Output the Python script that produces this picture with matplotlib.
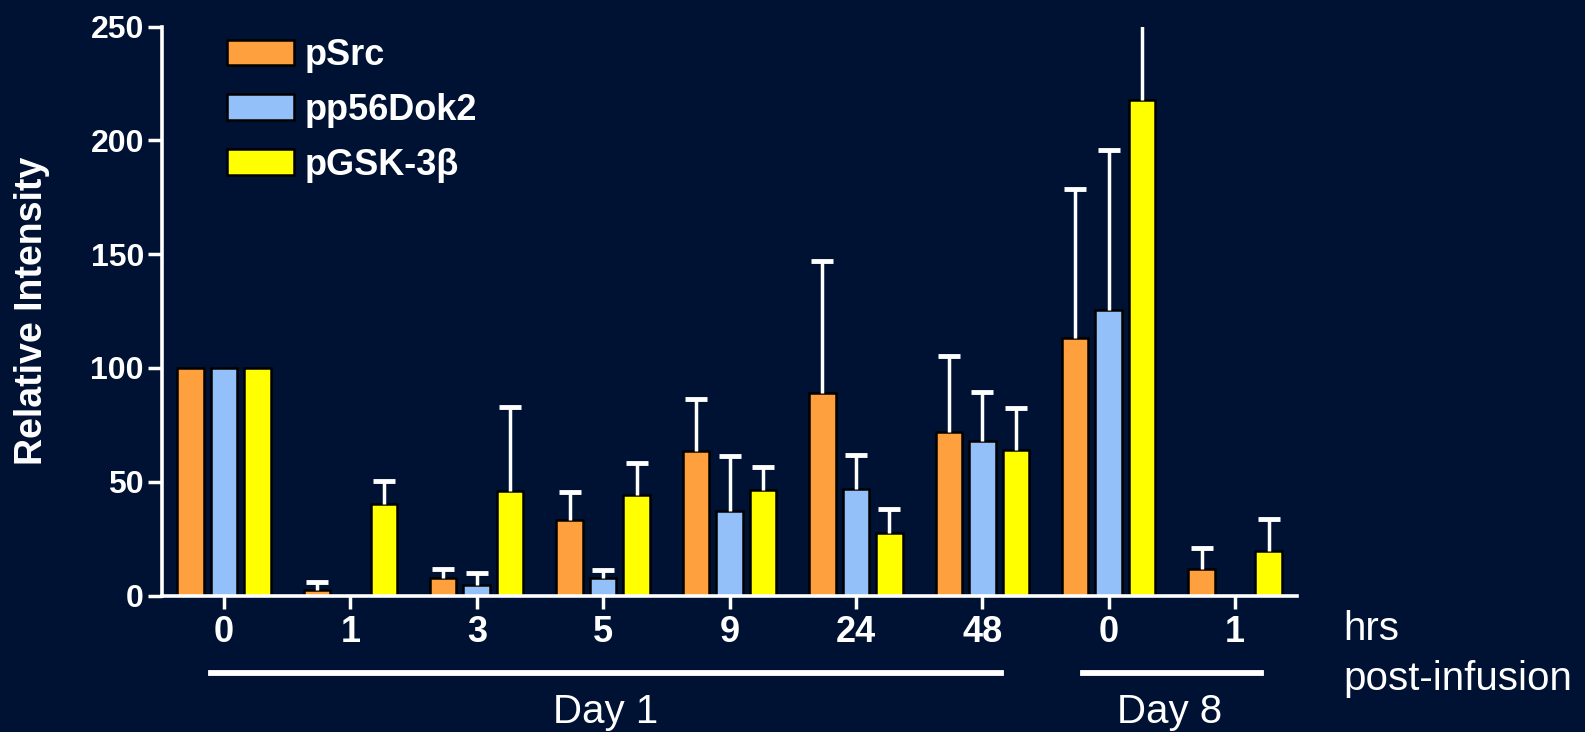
import matplotlib
matplotlib.use("Agg")
import matplotlib.pyplot as plt
from matplotlib.lines import Line2D
import numpy as np

# data
hours = ["0", "1", "3", "5", "9", "24", "48", "0", "1"]
series = ["pSrc", "pp56Dok2", "pGSK-3β"]
psrc = [100, 2.4, 7.8, 33, 63.5, 89, 72, 113, 11.6]
psrc_err = [0, 3.6, 4.0, 12.4, 22.7, 58, 33.3, 65.8, 9.4]
pdok = [100, 0, 4.6, 7.5, 37.1, 47, 67.8, 125.4, 0]
pdok_err = [0, 0, 5.3, 3.7, 24.1, 14.9, 21.5, 70.2, 0]
pgsk = [100, 40.3, 45.9, 44.2, 46.5, 27.5, 63.8, 218, 19.5]
pgsk_err = [0, 10, 36.8, 13.9, 9.9, 10.4, 18.6, 45, 14.3]

bg = "#001233"
colors = ["#FFA03F", "#93C0F8", "#FFFF00"]

plt.rcParams["font.family"] = ["Liberation Sans", "DejaVu Sans"]

fig = plt.figure(figsize=(15.85, 7.32), dpi=100, facecolor=bg)
ax = fig.add_axes([162 / 1585, 1 - 595.5 / 732, (1297 - 162) / 1585, (595.5 - 26.7) / 732])
ax.set_facecolor(bg)

x = np.arange(len(hours))
offs = [-0.265, 0.0, 0.265]
w = 0.21
for vals, errs, col, off, name in zip([psrc, pdok, pgsk], [psrc_err, pdok_err, pgsk_err],
                                      colors, offs, series):
    vals = np.array(vals, dtype=float)
    errs = np.array(errs, dtype=float)
    ax.bar(x + off, vals, w, color=col, edgecolor="black", linewidth=1.8, label=name, zorder=2)
    m = errs > 0
    # upper error bars only
    eb = ax.errorbar(x[m] + off, vals[m], yerr=[np.zeros(m.sum()), errs[m]], fmt="none",
                     ecolor="white", elinewidth=2.5, capsize=8, capthick=3.5, zorder=3)
    for cl in eb[1]:
        if np.allclose(cl.get_ydata(), vals[m]):
            cl.set_visible(False)
        else:
            cl.set_solid_capstyle("round")

ax.set_xlim(-0.49, 8.49)
ax.set_ylim(0, 250)
ax.set_yticks([0, 50, 100, 150, 200, 250])
ax.set_xticks(x)
ax.set_xticklabels(hours)
for s in ["top", "right"]:
    ax.spines[s].set_visible(False)
for s in ["left", "bottom"]:
    ax.spines[s].set_color("white")
    ax.spines[s].set_linewidth(2.6)
ax.tick_params(axis="y", colors="white", length=10, width=2.5, labelsize=23, pad=3)
ax.tick_params(axis="x", colors="white", length=9, width=2.5, labelsize=26, pad=5)
for lab in ax.get_xticklabels() + ax.get_yticklabels():
    lab.set_fontweight("bold")

fig.text(32 / 1585, 1 - 311 / 732, "Relative Intensity", rotation=90, ha="center", va="center",
         color="white", fontsize=27, fontweight="bold")

leg = ax.legend(loc="upper left", bbox_to_anchor=(227 / 1585, 1 - 38 / 732),
                bbox_transform=fig.transFigure, frameon=False, fontsize=26,
                handlelength=1.86, handleheight=0.72, handletextpad=0.3,
                labelspacing=0.55, borderpad=0, borderaxespad=0)
for t in leg.get_texts():
    t.set_color("white")
    t.set_fontweight("bold")

# day brackets under the axis
for x0, x1 in [(211, 1001), (1083, 1261)]:
    fig.add_artist(Line2D([x0 / 1585, x1 / 1585], [1 - 673 / 732] * 2, color="white", lw=4.2))
fig.text(606 / 1585, 1 - 723 / 732, "Day 1", ha="center", va="baseline", color="white", fontsize=29)
fig.text(1170 / 1585, 1 - 723 / 732, "Day 8", ha="center", va="baseline", color="white", fontsize=29)
fig.text(1343 / 1585, 1 - 640 / 732, "hrs", ha="left", va="baseline", color="white", fontsize=29)
fig.text(1343 / 1585, 1 - 690 / 732, "post-infusion", ha="left", va="baseline", color="white", fontsize=29)

fig.savefig("out.png", dpi=100, facecolor=bg)
